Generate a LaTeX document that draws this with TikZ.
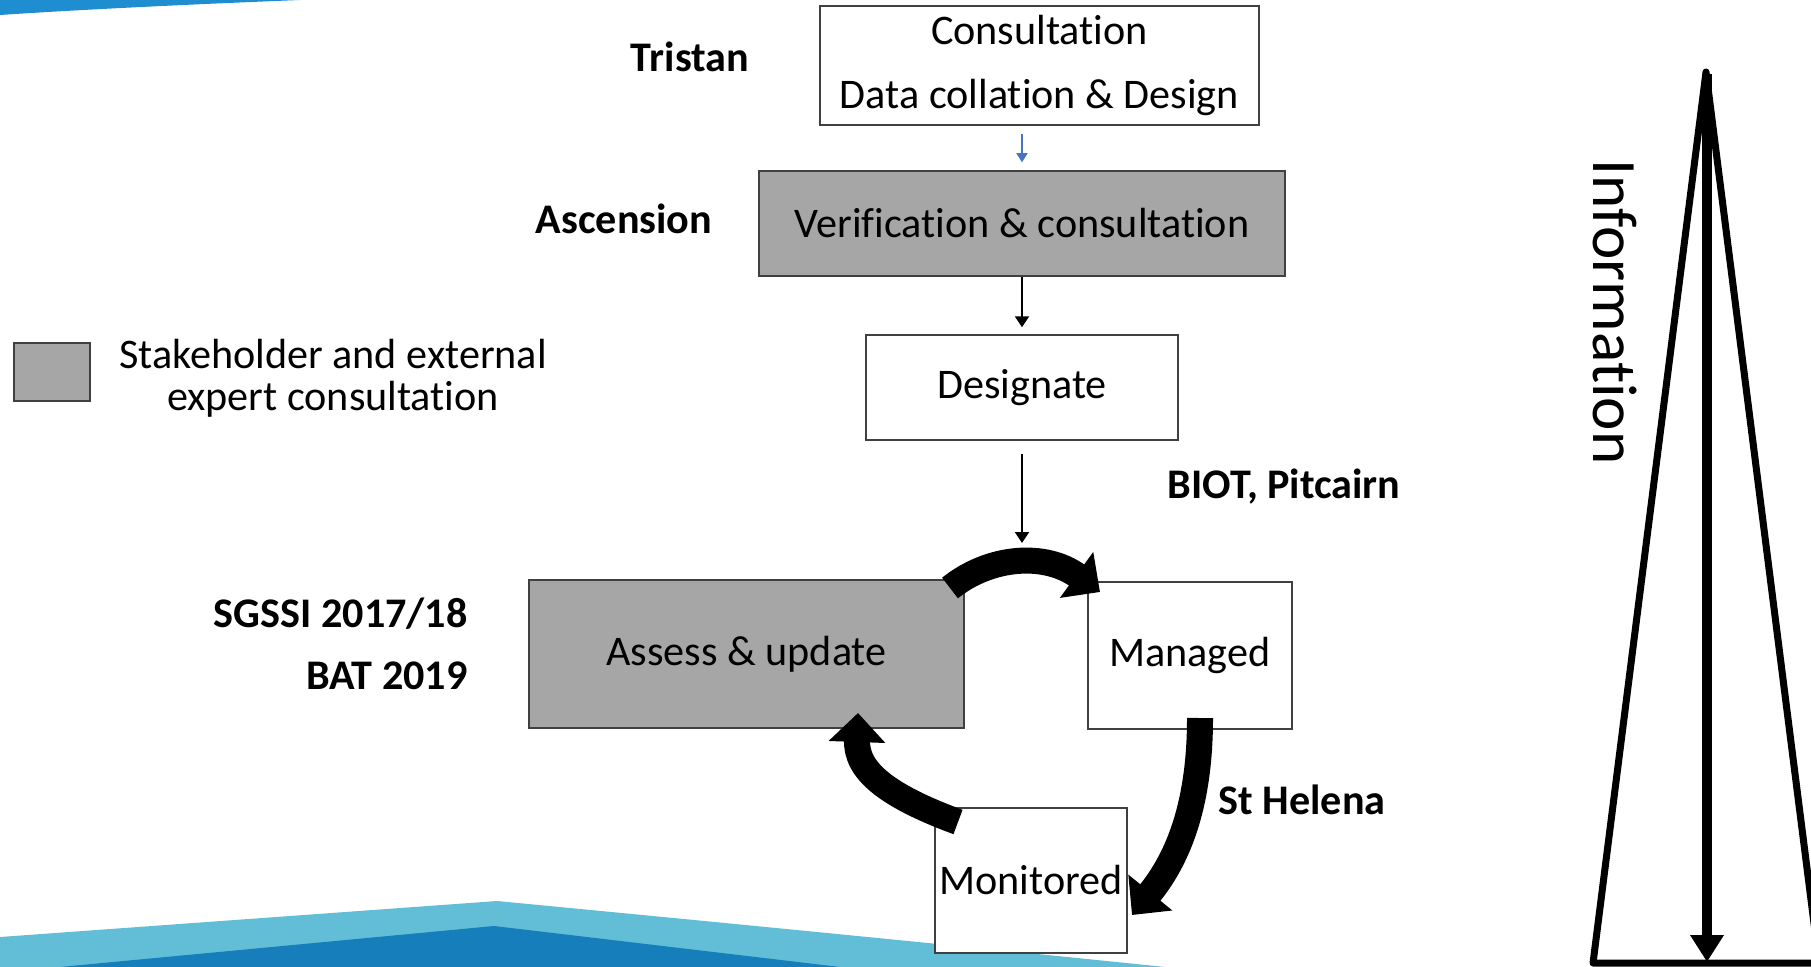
\documentclass[tikz,border=0pt]{standalone}
\usepackage{fontspec}
\setmainfont{Carlito}[Ligatures=NoCommon]
\usepackage{tikz}
\usetikzlibrary{arrows.meta}
\usepackage{xcolor}
\definecolor{boxgray}{RGB}{166,166,166}
\definecolor{stepblue}{RGB}{68,114,196}
\definecolor{topblue}{RGB}{30,142,208}
\definecolor{lightwave}{RGB}{98,190,214}
\definecolor{darkwave}{RGB}{22,126,186}

\begin{document}
\begin{tikzpicture}[x=0.2mm,y=-0.2mm,font=\fontsize{24}{30}\selectfont]
        \tikzstyle{plain box}=[draw=black!75,line width=0.3mm,fill=white,inner sep=0pt,align=center]
        \tikzstyle{grey box}=[plain box,fill=boxgray]
        \tikzstyle{place}=[font=\fontsize{24}{30}\selectfont\bfseries,inner sep=0pt]
        \tikzstyle{step arrow}=[-{Triangle[length=2.2mm,width=2.8mm]},line width=0.4mm]
        \tikzstyle{loop arrow}=[-{Triangle[length=5.8mm,width=11mm]},line width=5.2mm]

        \useasboundingbox (0,0) rectangle (1811,967);
        \clip (0,0) rectangle (1811,967);

        % background swooshes
        \fill[topblue] (0,0) -- (300,0) .. controls (200,4) and (90,9) .. (0,15) -- cycle;
        \fill[lightwave] (0,937) -- (497,901) .. controls (800,930) and (1000,950) .. (1165,967) -- (0,967) -- cycle;
        \fill[darkwave] (60,967) -- (494,926) -- (840,967) -- cycle;

        % process boxes
        \node(consult)[plain box,minimum width=87.8mm,minimum height=23.8mm,font=\fontsize{24}{36}\selectfont] at (1039.5,65.5) {Consultation\\Data collation \& Design};
        \node(verif)[grey box,minimum width=105.2mm,minimum height=21mm] at (1022,223.5) {Verification \& consultation};
        \node(desig)[plain box,minimum width=62.4mm,minimum height=21mm] at (1022,387.5) {Designate};
        \node(assess)[grey box,minimum width=87mm,minimum height=29.6mm] at (746.5,654) {Assess \& update};
        \node(managed)[plain box,minimum width=40.8mm,minimum height=29.4mm] at (1190,655.5) {Managed};
        \node(monit)[plain box,minimum width=38.4mm,minimum height=29mm] at (1031,880.5) {Monitored};

        % legend
        \node(key)[grey box,minimum width=15.2mm,minimum height=11.6mm] at (52,372) {};
        \node(keytext)[align=center,font=\fontsize{24}{24}\selectfont] at (333,378) {Stakeholder and external\\expert consultation};

        % territories
        \node(tristan)[place] at (690,57) {Tristan};
        \node(ascension)[place] at (624,219) {Ascension};
        \node(biot)[place] at (1284,487) {BIOT, Pitcairn};
        \node(sgssi)[place,anchor=east] at (468,614) {SGSSI 2017/18};
        \node(bat)[place,anchor=east] at (468,676) {BAT 2019};
        \node(helena)[place] at (1302,800) {St Helena};

        % straight steps
        \coordinate (looptop) at (1022,543);
        \draw[step arrow,stepblue,line width=0.3mm,-{Triangle[length=1.8mm,width=2.2mm]},shorten <=1.6mm,shorten >=1.6mm] (consult.south -| verif.north) -- (verif.north);
        \draw[step arrow,shorten >=1.4mm] (verif.south) -- (desig.north);
        \draw[step arrow,shorten <=2.6mm] (desig.south) -- (looptop);

        % cycle
        \draw[loop arrow] (950,588) .. controls (990,556) and (1045,552) .. (1100,592);
        \draw[loop arrow] (1200,718) .. controls (1200,790) and (1185,850) .. (1132,915);
        \draw[loop arrow] (958,822) .. controls (885,795) and (856,770) .. (858,713);

        % information triangle
        \coordinate (apex) at (1706,72);
        \coordinate (infotop) at (1707,74);
        \coordinate (infobottom) at (1707,962);
        \draw[line width=1.4mm,line join=round] (apex) -- (1593,963) -- (1819,963) -- cycle;
        \draw[line width=2mm,-{Triangle[length=5.4mm,width=6.4mm]}] (infotop) -- (infobottom);
        \node(info)[rotate=-90,font=\fontsize{36}{40}\selectfont] at (1615,312) {Information};
    \end{tikzpicture}
\end{document}
